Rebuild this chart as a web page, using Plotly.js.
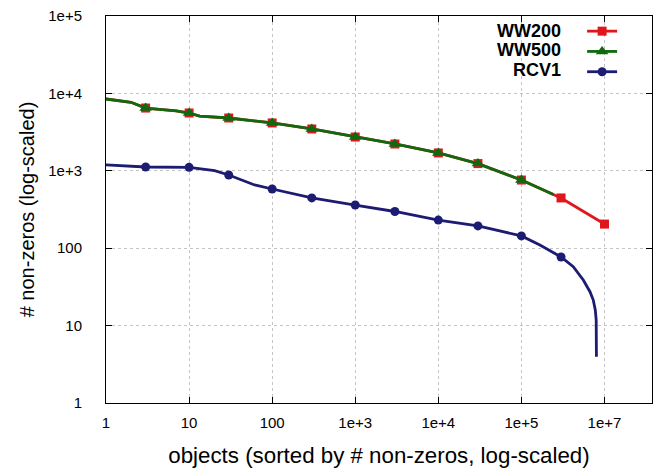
<!DOCTYPE html>
<html>
<head>
<meta charset="utf-8">
<script src="https://cdn.plot.ly/plotly-3.0.1.min.js"></script>
<style>html,body{margin:0;padding:0;background:#fff;}#chart{width:665px;height:472px;}</style>
</head>
<body>
<div id="chart"></div>
<script>
// ---- data ----
const seriesNames = ["WW200", "WW500", "RCV1"];

const ww200CurveX = [1, 2, 3, 7, 10, 13.4, 30, 100, 300, 1e3, 3e3, 1e4, 3e4, 1e5, 3e5, 1e6];
const ww200CurveY = [8470, 7680, 6470, 5930, 5580, 5100, 4810, 4150, 3470, 2730, 2220, 1700, 1240, 760, 446, 205];
const ww200MarkX = [3, 10, 30, 100, 300, 1e3, 3e3, 1e4, 3e4, 1e5, 3e5, 1e6];
const ww200MarkY = [6470, 5580, 4810, 4150, 3470, 2730, 2220, 1700, 1240, 760, 446, 205];

const ww500CurveX = [1, 2, 3, 7, 10, 13.4, 30, 100, 300, 1e3, 3e3, 1e4, 3e4, 1e5, 2.43e5];
const ww500CurveY = [8470, 7680, 6470, 5930, 5580, 5100, 4810, 4150, 3470, 2730, 2220, 1700, 1240, 760, 493];
const ww500MarkX = [3, 10, 30, 100, 300, 1e3, 3e3, 1e4, 3e4, 1e5];
const ww500MarkY = [6470, 5580, 4810, 4150, 3470, 2730, 2220, 1700, 1240, 760];

const rcv1CurveX = [1, 3, 10, 20.3, 30, 61.5, 100, 300, 1e3, 3e3, 1e4, 3e4, 1e5, 1.67e5, 3e5, 4.21e5, 5.56e5, 6.69e5, 7.33e5, 7.75e5, 7.95e5, 8.0e5];
const rcv1CurveY = [1190, 1120, 1109, 1003, 883, 656, 582, 446, 361, 298, 231, 194, 144, 110, 77, 57.7, 38.8, 27.4, 21.4, 15.9, 11.8, 3.96];
const rcv1MarkX = [3, 10, 30, 100, 300, 1e3, 3e3, 1e4, 3e4, 1e5, 3e5];
const rcv1MarkY = [1120, 1109, 883, 582, 446, 361, 298, 231, 194, 144, 77];

const xTickVals = [1, 10, 100, 1e3, 1e4, 1e5, 1e6];
const xTickText = ["1", "10", "100", "1e+3", "1e+4", "1e+5", "1e+7"];
const yTickVals = [1, 10, 100, 1e3, 1e4, 1e5];
const yTickText = ["1", "10", "100", "1e+3", "1e+4", "1e+5"];

// ---- styles ----
const colors = ["#e0161d", "#0f6a0f", "#1c1c72"];
const symbols = ["square", "triangle-up", "circle"];
const msizes = [9, 11, 9];
const LW = 2.8;

const curves = [[ww200CurveX, ww200CurveY], [ww500CurveX, ww500CurveY], [rcv1CurveX, rcv1CurveY]];
const marks = [[ww200MarkX, ww200MarkY], [ww500MarkX, ww500MarkY], [rcv1MarkX, rcv1MarkY]];

const traces = [];
for (let i = 0; i < 3; i++) {
  traces.push({
    x: curves[i][0], y: curves[i][1], type: "scatter", mode: "lines",
    line: {color: colors[i], width: LW}, showlegend: false, legendgroup: seriesNames[i],
    hoverinfo: "skip"
  });
  traces.push({
    x: marks[i][0], y: marks[i][1], type: "scatter", mode: "markers",
    marker: {color: colors[i], symbol: symbols[i], size: msizes[i], line: {width: 0}},
    showlegend: false, legendgroup: seriesNames[i]
  });
}
for (let i = 0; i < 3; i++) {
  traces.push({
    x: [null], y: [null], type: "scatter", mode: "lines+markers", name: " ",
    line: {color: colors[i], width: LW},
    marker: {color: colors[i], symbol: symbols[i], size: msizes[i], line: {width: 0}},
    showlegend: true, legendgroup: seriesNames[i]
  });
}

const FONT = "Liberation Sans, Arial, Helvetica, sans-serif";
const axisCommon = {
  type: "log", showline: true, linecolor: "#000", linewidth: 1, mirror: "ticks",
  ticks: "inside", ticklen: 6, tickcolor: "#000", tickwidth: 1,
  showgrid: true, gridcolor: "#c4c4c4", griddash: "dot", gridwidth: 1, zeroline: false,
  tickfont: {family: FONT, size: 15, color: "#000"}, automargin: false
};

const layout = {
  width: 665, height: 472,
  margin: {l: 106, r: 13, t: 16, b: 69, pad: 0},
  paper_bgcolor: "#fff", plot_bgcolor: "#fff",
  font: {family: FONT, color: "#000"},
  showlegend: true,
  legend: {x: 0.872, xanchor: "left", y: 1.0, yanchor: "top", bgcolor: "rgba(0,0,0,0)",
           borderwidth: 0, font: {family: FONT, size: 13.3}, tracegroupgap: 0, itemclick: false},
  xaxis: Object.assign({}, axisCommon, {
    range: [0, 6.572], tickmode: "array", tickvals: xTickVals, ticktext: xTickText,
    ticklabelstandoff: 6,
    title: {text: "objects (sorted by # non-zeros, log-scaled)", font: {family: FONT, size: 22.3}, standoff: 17}
  }),
  yaxis: Object.assign({}, axisCommon, {
    range: [0, 5], tickmode: "array", tickvals: yTickVals, ticktext: yTickText,
    ticklabelstandoff: 20,
    title: {text: "# non-zeros (log-scaled)", font: {family: FONT, size: 20}, standoff: 8}
  }),
  annotations: seriesNames.map((n, i) => ({
    text: "<b>" + n + "</b>", xref: "paper", yref: "paper", x: 0.837, y: [0.962, 0.912, 0.8605][i],
    xanchor: "right", yanchor: "middle", showarrow: false,
    font: {family: FONT, size: 18, color: "#000"}
  }))
};

Plotly.newPlot("chart", traces, layout, {displayModeBar: false, staticPlot: true});
</script>
</body>
</html>
